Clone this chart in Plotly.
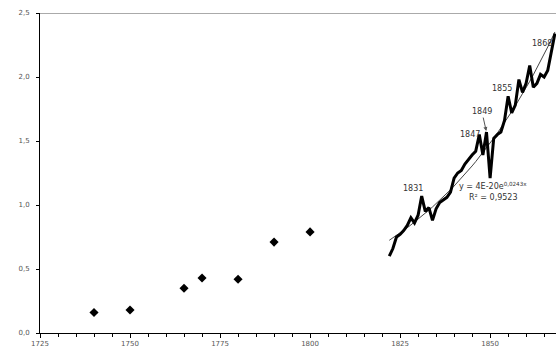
import numpy as np
import plotly.graph_objects as go

# Scatter (early estimates)
early_years = [1740, 1750, 1765, 1770, 1780, 1790, 1800]
early_vals = [0.16, 0.18, 0.35, 0.43, 0.42, 0.71, 0.79]

# Annual series
annual_years = list(range(1822, 1869))
annual_vals = [0.60, 0.66, 0.75, 0.77, 0.80, 0.84, 0.90, 0.86, 0.92, 1.07,
               0.95, 0.98, 0.88, 0.97, 1.02, 1.04, 1.06, 1.10, 1.21, 1.25,
               1.27, 1.32, 1.36, 1.39, 1.42, 1.55, 1.39, 1.57, 1.21, 1.52,
               1.55, 1.57, 1.66, 1.85, 1.72, 1.78, 1.98, 1.88, 1.95, 2.09,
               1.92, 1.95, 2.02, 2.00, 2.05, 2.21, 2.34]

y_tickvals = [0, 0.5, 1.0, 1.5, 2.0, 2.5]
y_ticktext = ["0,0", "0,5", "1,0", "1,5", "2,0", "2,5"]
x_tickvals = [1725, 1750, 1775, 1800, 1825, 1850]
x_ticktext = ["1725", "1750", "1775", "1800", "1825", "1850"]

# year labels and their text positions (x, y in data units)
label_years = [1831, 1847, 1849, 1855, 1868]
label_pos_x = [1828.7, 1844.4, 1847.7, 1853.2, 1864.4]
label_pos_y = [1.13, 1.55, 1.73, 1.91, 2.26]

eq_text = "y = 4E-20e<sup>0,0243x</sup>"
r2_text = "R² = 0,9523"

# exponential trendline fitted to the annual series
ay = np.array(annual_years, dtype=float)
av = np.array(annual_vals)
b, a = np.polyfit(ay, np.log(av), 1)
trend_vals = np.exp(a + b * ay)

fig = go.Figure()
fig.add_trace(go.Scatter(x=early_years, y=early_vals, mode="markers",
                         marker=dict(symbol="diamond", size=7, color="black"),
                         showlegend=False, cliponaxis=False))
fig.add_trace(go.Scatter(x=annual_years, y=trend_vals, mode="lines",
                         line=dict(color="#444", width=1), showlegend=False))
fig.add_trace(go.Scatter(x=annual_years, y=annual_vals, mode="lines",
                         line=dict(color="black", width=3), showlegend=False))

lab = dict(zip(annual_years, annual_vals))
font = dict(family="DejaVu Sans", size=8, color="#333")
for yr, tx, ty in zip(label_years, label_pos_x, label_pos_y):
    if yr == 1849:
        fig.add_annotation(x=yr, y=lab[yr], ax=tx, ay=ty, axref="x", ayref="y",
                           text=str(yr), showarrow=True, arrowhead=2, arrowsize=0.8,
                           arrowwidth=1, arrowcolor="#555", standoff=1, font=font)
    else:
        fig.add_annotation(x=tx, y=ty, text=str(yr), showarrow=False, font=font)

fig.add_annotation(x=1850.9, y=1.15, text=eq_text, showarrow=False, font=font)
fig.add_annotation(x=1850.9, y=1.06, text=r2_text, showarrow=False, font=font)

fig.add_shape(type="line", xref="paper", x0=0, x1=1, yref="y", y0=2.5, y1=2.5,
              line=dict(color="#aaa", width=2))

fig.update_xaxes(range=[1725, 1868.3], tickvals=x_tickvals, ticktext=x_ticktext,
                 showline=True, linecolor="black", linewidth=1, ticks="outside",
                 ticklen=4, tickcolor="black", showgrid=False, zeroline=False,
                 automargin=False,
                 minor=dict(dtick=5, tick0=1725, ticks="outside", ticklen=3, tickcolor="black"),
                 tickfont=dict(family="DejaVu Sans", size=7, color="#555"))
fig.update_yaxes(range=[0, 2.5], tickvals=y_tickvals, ticktext=y_ticktext,
                 showline=True, linecolor="black", linewidth=1, ticks="outside",
                 ticklen=3, tickcolor="black", showgrid=False, zeroline=False,
                 automargin=False, ticklabelstandoff=5,
                 tickfont=dict(family="DejaVu Sans", size=7, color="#555"))

fig.update_layout(width=556, height=349, margin=dict(l=40, r=0, t=13, b=16),
                  plot_bgcolor="white", paper_bgcolor="white")

fig.write_html("out.html", config={"displayModeBar": False},
               post_script="document.body.style.margin='0';document.body.style.overflow='hidden';")
